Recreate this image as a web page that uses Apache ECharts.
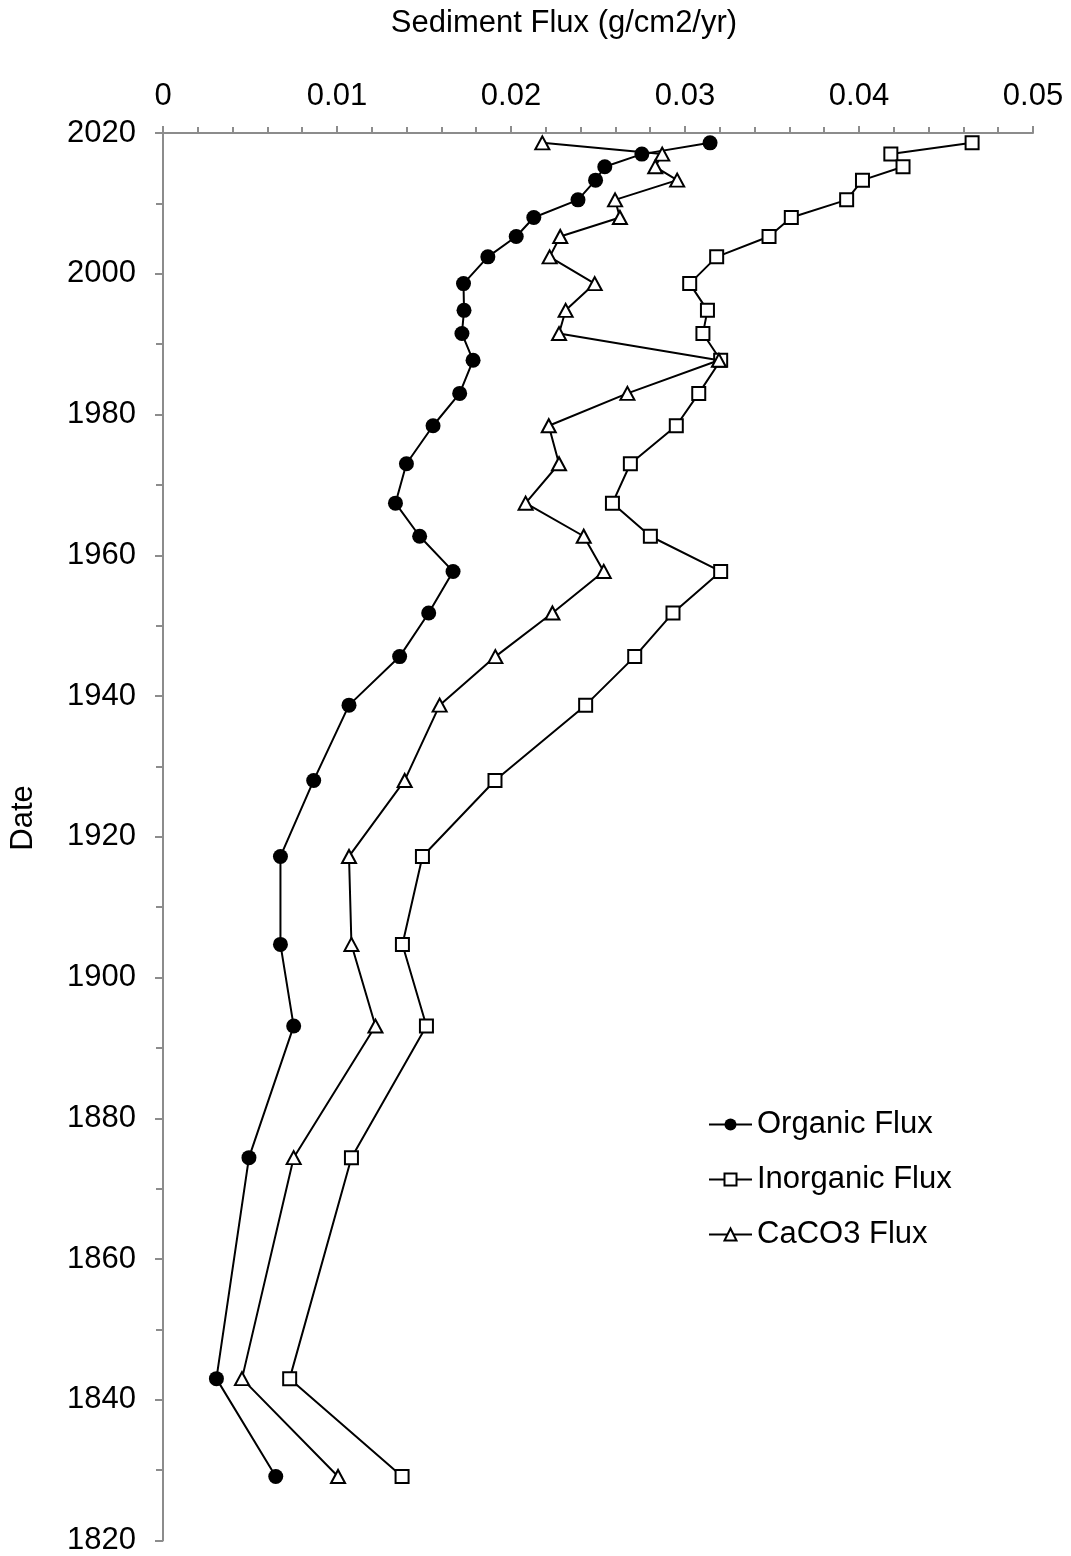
<!DOCTYPE html>
<html>
<head>
<meta charset="utf-8">
<script src="https://cdn.jsdelivr.net/npm/echarts@6/dist/echarts.min.js"></script>
<style>
html,body{margin:0;padding:0;background:#fff;}
#chart{width:1071px;height:1556px;}
</style>
</head>
<body>
<div id="chart"></div>
<script>
// Shared dates (years) for every sample
const dates = [2018.6, 2017.0, 2015.2, 2013.3, 2010.5, 2008.0, 2005.3, 2002.4, 1998.6, 1994.8,
  1991.5, 1987.7, 1983.0, 1978.4, 1973.0, 1967.4, 1962.7, 1957.7, 1951.8, 1945.6,
  1938.7, 1928.0, 1917.2, 1904.7, 1893.1, 1874.4, 1843.0, 1829.1];

const organicFlux = [0.03144, 0.02752, 0.02539, 0.02486, 0.02385, 0.02131, 0.0203, 0.01867, 0.01727, 0.0173,
  0.01718, 0.01782, 0.01705, 0.01552, 0.01399, 0.01336, 0.01475, 0.01667, 0.01527, 0.0136,
  0.01069, 0.00866, 0.00675, 0.00675, 0.00751, 0.00494, 0.00307, 0.00648];

const inorganicFlux = [0.0465, 0.04183, 0.04253, 0.0402, 0.03929, 0.03611, 0.03483, 0.03182, 0.03027, 0.03129,
  0.03103, 0.03205, 0.03079, 0.0295, 0.02686, 0.02583, 0.02801, 0.03205, 0.02931, 0.02711,
  0.02429, 0.01908, 0.01491, 0.01376, 0.01514, 0.01083, 0.00728, 0.01374];

const caco3Flux = [0.0218, 0.02869, 0.02829, 0.02955, 0.02598, 0.02626, 0.02283, 0.02222, 0.02481, 0.02314,
  0.02276, 0.03195, 0.02669, 0.02217, 0.02276, 0.02084, 0.02418, 0.02533, 0.02238, 0.0191,
  0.0159, 0.01389, 0.01069, 0.01083, 0.01221, 0.00751, 0.00454, 0.01006];

const seriesNames = ['Organic Flux', 'Inorganic Flux', 'CaCO3 Flux'];
const xTitle = 'Sediment Flux (g/cm2/yr)';
const yTitle = 'Date';

const FONT = 'Liberation Sans, Arial, sans-serif';
const FS = 31;
const pair = arr => arr.map((v, i) => [v, dates[i]]);

const chart = echarts.init(document.getElementById('chart'), null, {renderer: 'canvas'});
const axisGray = '#8c8c8c';

chart.setOption({
  animation: false,
  backgroundColor: '#fff',
  grid: {left: 163, top: 133, right: 38, bottom: 15, containLabel: false},
  xAxis: {
    type: 'value', position: 'top', min: 0, max: 0.05, interval: 0.01,
    axisLine: {show: true, lineStyle: {color: axisGray, width: 2}},
    axisTick: {show: true, length: 7, lineStyle: {color: axisGray, width: 2}},
    minorTick: {show: true, splitNumber: 5, length: 6, lineStyle: {color: axisGray, width: 2}},
    splitLine: {show: false},
    axisLabel: {
      margin: 21, color: '#000', fontFamily: FONT, fontSize: FS,
      formatter: v => v === 0 ? '0' : v.toFixed(2)
    }
  },
  yAxis: {
    type: 'value', min: 1820, max: 2020, interval: 20,
    axisLine: {show: true, lineStyle: {color: axisGray, width: 2}},
    axisTick: {show: true, length: 8, lineStyle: {color: axisGray, width: 2}},
    minorTick: {show: true, splitNumber: 2, length: 7, lineStyle: {color: axisGray, width: 2}},
    splitLine: {show: false},
    axisLabel: {margin: 27, color: '#000', fontFamily: FONT, fontSize: FS,
      formatter: v => String(Math.round(v))}
  },
  legend: {
    orient: 'vertical', left: 703, top: 1104,
    itemWidth: 43, itemHeight: 15, itemGap: 24,
    textStyle: {color: '#000', fontFamily: FONT, fontSize: FS, lineHeight: 31},
    data: seriesNames
  },
  graphic: [
    {type: 'text', x: 564, y: 23,
     style: {text: xTitle, font: FS + 'px ' + FONT, fill: '#000', align: 'center', verticalAlign: 'middle'}},
    {type: 'text', x: 23, y: 818, rotation: Math.PI / 2,
     style: {text: yTitle, font: FS + 'px ' + FONT, fill: '#000', align: 'center', verticalAlign: 'middle'}}
  ],
  series: [
    {
      name: seriesNames[0], type: 'line', data: pair(organicFlux),
      symbol: 'circle', symbolSize: 15,
      lineStyle: {color: '#000', width: 2},
      itemStyle: {color: '#000', borderColor: '#000', borderWidth: 0}
    },
    {
      name: seriesNames[1], type: 'line', data: pair(inorganicFlux),
      symbol: 'rect', symbolSize: 13,
      lineStyle: {color: '#000', width: 2},
      itemStyle: {color: '#fff', borderColor: '#000', borderWidth: 2}
    },
    {
      name: seriesNames[2], type: 'line', data: pair(caco3Flux),
      symbol: 'triangle', symbolSize: [14, 13],
      lineStyle: {color: '#000', width: 2},
      itemStyle: {color: '#fff', borderColor: '#000', borderWidth: 2}
    }
  ]
});
</script>
</body>
</html>
